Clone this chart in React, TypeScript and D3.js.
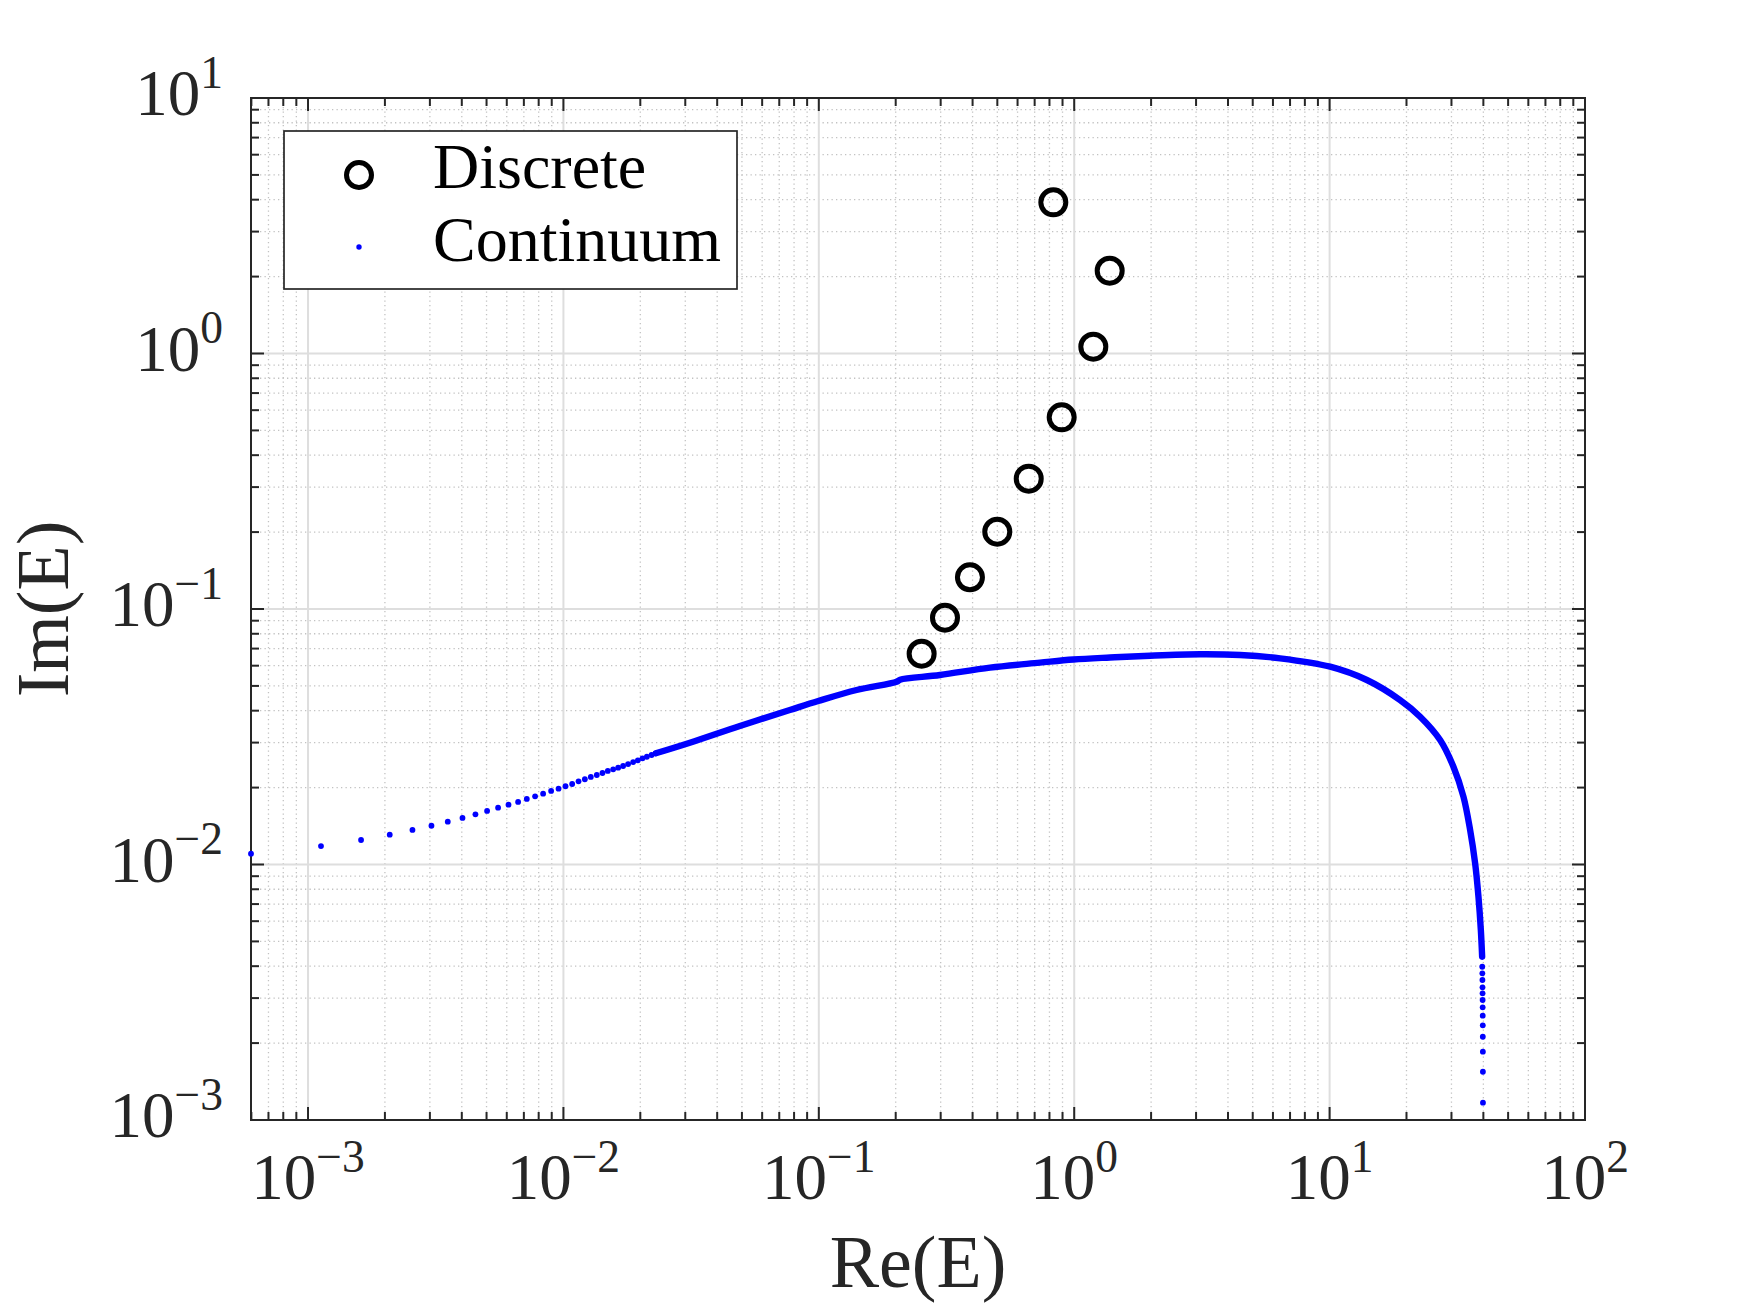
import React, { useRef, useEffect } from 'react';
import * as d3 from 'd3';

// discrete eigenvalues (circles)
const discreteRe = [0.2527, 0.3119, 0.3906, 0.4997, 0.6636, 0.8932, 1.188, 1.377, 0.8283];
const discreteIm = [0.06683, 0.09245, 0.1331, 0.2007, 0.3236, 0.5627, 1.063, 2.109, 3.906];

// continuum, sparse low-energy end (separate dots)
const tailLeftRe = [
  5.98e-4, 1.124e-3, 1.613e-3, 2.089e-3, 2.564e-3, 3.043e-3, 3.525e-3, 4.025e-3, 4.524e-3,
  5.025e-3, 5.548e-3, 6.095e-3, 6.646e-3, 7.188e-3, 7.746e-3, 8.327e-3, 8.95e-3, 9.57e-3,
  0.01019, 0.01082, 0.01146, 0.01213, 0.0128, 0.01351, 0.01422, 0.01492, 0.01566, 0.01638,
  0.01713, 0.01792, 0.01875, 0.01956, 0.0204, 0.02122, 0.02214, 0.023,
];
const tailLeftIm = [
  0.01102, 0.01181, 0.01247, 0.01308, 0.01365, 0.01418, 0.01471, 0.01521, 0.01572,
  0.0162, 0.01669, 0.01714, 0.01757, 0.01805, 0.01849, 0.01893, 0.0194, 0.0198,
  0.02024, 0.02066, 0.02117, 0.02156, 0.02201, 0.0224, 0.02281, 0.02323, 0.02358, 0.02393,
  0.02429, 0.02473, 0.02518, 0.02557, 0.02604, 0.02641, 0.02683, 0.02724,
];

// continuum, dense middle part (dots overlap into a band)
const bandRe = [
  0.023, 0.03127, 0.04908, 0.077, 0.09945, 0.1406, 0.2017, 0.208, 0.298, 0.4679, 0.7345,
  0.9919, 1.381, 1.981, 3.11, 4.462, 6.4, 10.05, 13.99, 18.89, 22.62, 27.09, 30.54, 33.43,
  35.5, 37.14, 38.27, 39.1, 39.56,
];
const bandIm = [
  0.02724, 0.02996, 0.03484, 0.04024, 0.04363, 0.04819, 0.05193, 0.05287, 0.05515, 0.05893,
  0.06165, 0.06343, 0.0646, 0.06566, 0.06649, 0.06607, 0.06412, 0.05946, 0.05274, 0.04402,
  0.0379, 0.03071, 0.02414, 0.01842, 0.01365, 0.01011, 0.007482, 0.00554, 0.004356,
];

// continuum, sparse end near the cut-off
const tailRightRe = [39.6, 39.63, 39.66, 39.69, 39.71, 39.73, 39.75, 39.77, 39.79, 39.8, 39.82, 39.83, 39.85];
const tailRightIm = [
  0.00398, 0.003752, 0.003531, 0.003307, 0.003133, 0.002949, 0.002761, 0.00256, 0.002347,
  0.002118, 0.001851, 0.001545, 0.001169,
];

const xTickExps = [-3, -2, -1, 0, 1, 2];
const yTickExps = [-3, -2, -1, 0, 1];
const legendLabels = ['Discrete', 'Continuum'];
const xLabel = 'Re(E)';
const yLabel = 'Im(E)';

const W = 1750;
const H = 1313;
const FONT = '"Liberation Serif", "Times New Roman", serif';
const AX = '#262626';

const App: React.FC = () => {
  const ref = useRef<SVGSVGElement>(null);

  useEffect(() => {
    const svg = d3.select(ref.current);
    svg.selectAll('*').remove();
    const margin = { top: 98, right: W - 1585, bottom: H - 1120, left: 251 };
    const x0 = margin.left, x1 = W - margin.right, y0 = margin.top, y1 = H - margin.bottom;

    const x = d3.scaleLog().domain([5.98e-4, 100]).range([x0, x1]);
    const y = d3.scaleLog().domain([1e-3, 10]).range([y1, y0]);

    const minors = (dom: number[]) => {
      const out: number[] = [];
      for (let e = -5; e <= 3; e++) {
        for (let m = 2; m <= 9; m++) {
          const v = m * Math.pow(10, e);
          if (v > dom[0] * 1.001 && v < dom[1] * 0.999) out.push(v);
        }
      }
      return out;
    };
    const xMinor = minors(x.domain());
    const yMinor = minors(y.domain());
    const xMajor = xTickExps.map(e => Math.pow(10, e));
    const yMajor = yTickExps.map(e => Math.pow(10, e));

    svg.append('rect').attr('width', W).attr('height', H).attr('fill', '#fff');

    // minor grid (dotted)
    const grid = svg.append('g');
    grid.selectAll('line.xm').data(xMinor).join('line')
      .attr('x1', d => x(d)).attr('x2', d => x(d)).attr('y1', y0).attr('y2', y1)
      .attr('stroke', '#c2c2c2').attr('stroke-width', 1.3).attr('stroke-dasharray', '1.3,3.2');
    grid.selectAll('line.ym').data(yMinor).join('line')
      .attr('y1', d => y(d)).attr('y2', d => y(d)).attr('x1', x0).attr('x2', x1)
      .attr('stroke', '#c2c2c2').attr('stroke-width', 1.3).attr('stroke-dasharray', '1.3,3.2');
    // major grid (solid, light)
    const gridM = svg.append('g');
    gridM.selectAll('line.xM').data(xMajor).join('line')
      .attr('x1', d => x(d)).attr('x2', d => x(d)).attr('y1', y0).attr('y2', y1)
      .attr('stroke', '#dedede').attr('stroke-width', 2);
    gridM.selectAll('line.yM').data(yMajor).join('line')
      .attr('y1', d => y(d)).attr('y2', d => y(d)).attr('x1', x0).attr('x2', x1)
      .attr('stroke', '#dedede').attr('stroke-width', 2);

    // ticks on all four sides, pointing inward
    const ticks = svg.append('g').attr('stroke', AX).attr('stroke-width', 2);
    const tick = (vals: number[], len: number) => {
      vals.forEach(v => {
        const px = x(v);
        ticks.append('line').attr('x1', px).attr('x2', px).attr('y1', y1).attr('y2', y1 - len);
        ticks.append('line').attr('x1', px).attr('x2', px).attr('y1', y0).attr('y2', y0 + len);
      });
    };
    const tickY = (vals: number[], len: number) => {
      vals.forEach(v => {
        const py = y(v);
        ticks.append('line').attr('y1', py).attr('y2', py).attr('x1', x0).attr('x2', x0 + len);
        ticks.append('line').attr('y1', py).attr('y2', py).attr('x1', x1).attr('x2', x1 - len);
      });
    };
    tick(xMinor, 8);
    tick(xMajor.filter(v => v < 100), 13);
    tickY(yMinor, 8);
    tickY(yMajor, 13);

    svg.append('rect').attr('x', x0).attr('y', y0).attr('width', x1 - x0).attr('height', y1 - y0)
      .attr('fill', 'none').attr('stroke', AX).attr('stroke-width', 2);

    // tick labels
    const fs = 65;
    const expLabel = (g: d3.Selection<SVGTextElement, unknown, null, undefined>, e: number) => {
      g.append('tspan').text('10');
      g.append('tspan').attr('dy', -0.42 * fs).attr('font-size', fs * 0.7)
        .text(e < 0 ? '\u2212' + -e : String(e));
    };
    xTickExps.forEach(e => {
      const t = svg.append('text').attr('x', x(Math.pow(10, e))).attr('y', y1 + 79)
        .attr('text-anchor', 'middle').attr('font-family', FONT).attr('font-size', fs).attr('fill', AX);
      expLabel(t as any, e);
    });
    yTickExps.forEach(e => {
      const t = svg.append('text').attr('x', x0 - 28).attr('y', y(Math.pow(10, e)) + 17)
        .attr('text-anchor', 'end').attr('font-family', FONT).attr('font-size', fs).attr('fill', AX);
      expLabel(t as any, e);
    });

    // axis labels
    svg.append('text').attr('x', (x0 + x1) / 2).attr('y', 1287).attr('text-anchor', 'middle')
      .attr('font-family', FONT).attr('font-size', 74).attr('fill', AX).text(xLabel);
    svg.append('text').attr('transform', `translate(68,${(y0 + y1) / 2}) rotate(-90)`)
      .attr('text-anchor', 'middle').attr('font-family', FONT).attr('font-size', 74).attr('fill', AX)
      .text(yLabel);

    // continuum
    const blue = '#0000ff';
    const dotR = 2.9;
    const left = tailLeftRe.map((v, i) => [v, tailLeftIm[i]]);
    const right = tailRightRe.map((v, i) => [v, tailRightIm[i]]);
    const band = bandRe.map((v, i) => [v, bandIm[i]] as [number, number]);
    svg.append('path').datum(band)
      .attr('fill', 'none').attr('stroke', blue).attr('stroke-width', 6.4)
      .attr('stroke-linecap', 'round').attr('stroke-linejoin', 'round')
      .attr('d', d3.line<[number, number]>().curve(d3.curveCatmullRom)
        .x(d => x(d[0])).y(d => y(d[1])));
    svg.append('g').selectAll('circle').data([...left, ...right]).join('circle')
      .attr('cx', d => x(d[0])).attr('cy', d => y(d[1])).attr('r', dotR).attr('fill', blue);

    // discrete
    svg.append('g').selectAll('circle').data(discreteRe.map((v, i) => [v, discreteIm[i]])).join('circle')
      .attr('cx', d => x(d[0])).attr('cy', d => y(d[1])).attr('r', 12.5)
      .attr('fill', 'none').attr('stroke', '#000').attr('stroke-width', 5);

    // legend
    const lg = svg.append('g');
    lg.append('rect').attr('x', 284).attr('y', 131).attr('width', 453).attr('height', 158)
      .attr('fill', '#fff').attr('stroke', AX).attr('stroke-width', 1.7);
    lg.append('circle').attr('cx', 359).attr('cy', 175).attr('r', 12.5)
      .attr('fill', 'none').attr('stroke', '#000').attr('stroke-width', 5);
    lg.append('circle').attr('cx', 359).attr('cy', 247).attr('r', 2.7).attr('fill', blue);
    legendLabels.forEach((s, i) => {
      lg.append('text').attr('x', 433).attr('y', 188 + i * 73).attr('font-family', FONT)
        .attr('font-size', 64).attr('fill', '#000').text(s);
    });
  }, []);

  return (
    <svg ref={ref} width={W} height={H}
      style={{ position: 'absolute', left: 0, top: 0, display: 'block' }} />
  );
};

export default App;
